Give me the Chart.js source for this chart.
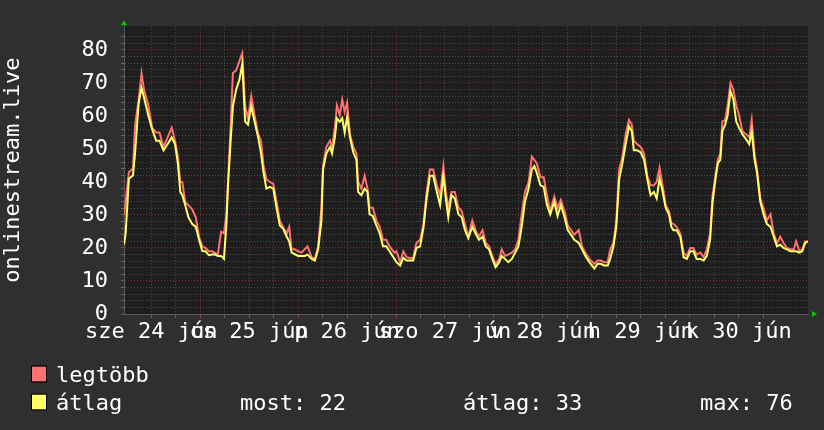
<!DOCTYPE html>
<html>
<head>
<meta charset="utf-8">
<script src="https://cdn.jsdelivr.net/npm/chart.js@4"></script>
<style>
html,body{margin:0;padding:0;background:#2f2f2f;}
canvas{display:block;}
</style>
</head>
<body>
<canvas id="c" width="824" height="430"></canvas>
<script>
// ---- data (hours since 24 Jun 00:00) ----
const hours = [5.3,5.7,6.5,7.5,8.0,8.9,9.6,10.2,11.3,12.2,13.2,14.0,15.0,16.0,17.0,17.8,18.5,19.1,19.6,20.3,21.1,22.0,22.9,23.7,24.5,25.3,26.1,26.9,27.5,28.3,29.1,29.8,30.4,30.8,31.5,32.0,32.8,33.6,34.3,35.0,35.7,36.5,37.3,38.2,38.9,39.5,40.2,41.1,41.9,42.7,43.5,44.3,45.2,45.8,46.4,47.2,48.0,48.8,49.6,50.3,51.3,52.1,52.9,53.7,54.1,54.9,55.8,56.3,57.0,57.5,58.2,58.8,59.4,60.0,60.7,61.5,62.3,62.7,63.5,64.3,65.0,65.5,66.3,67.2,68.0,68.8,69.6,70.4,71.6,72.1,73.0,73.8,74.6,75.4,76.2,77.0,77.9,78.7,79.5,80.3,81.1,82.0,82.8,83.6,84.2,84.8,85.6,86.4,87.3,88.1,88.9,89.7,90.7,91.5,92.3,93.2,94.0,94.8,95.6,96.4,97.3,97.9,98.7,99.5,100.4,101.2,102.0,102.8,103.6,104.5,105.3,105.9,106.5,107.4,108.2,109.0,109.8,110.8,111.6,112.4,113.3,114.1,114.9,115.7,116.8,117.6,118.4,119.4,120.6,121.4,122.2,123.0,123.9,124.5,125.3,126.0,126.7,127.5,128.3,129.1,129.8,130.3,131.1,132.0,132.8,133.6,134.4,135.2,135.9,136.6,137.2,138.1,138.9,139.5,140.0,140.8,141.7,142.5,143.3,144.1,144.9,145.7,146.6,147.4,148.2,149.0,149.6,150.2,150.9,151.5,152.0,152.7,153.3,154.0,154.7,155.4,156.1,156.9,157.8,158.6,159.2,159.9,160.5,161.3,162.1,162.9,163.8,164.6,165.4,166.2,167.0,167.8,168.7,169.5,170.1,170.9,171.6,172.3,173.0];
const legtobb = [30,34,43,44,57,65,72.9,68,63,56.4,55,55,50.6,53.5,56.4,52.5,47.7,40,40,34,33,31.7,29.3,23.4,20.5,20,19,19,18.6,18,24.9,24.4,30,40,58.3,73,73.8,76.7,79,63,59.3,66,60.3,54.5,52.5,45,40.9,40,39.4,34,28.3,26.4,24.4,26.4,19.6,19.6,19,18.6,19.6,20.5,17.2,16.7,20.5,32.2,44.8,50.6,52.5,50.6,56.4,63.2,60.3,65,61.2,64,54.5,50.6,48.6,40,38,41.9,38,32.2,32.2,28.3,26.4,22.5,22.5,20.5,18.6,19,15.7,19,17.2,17,17,21.5,22.5,27,37,43.8,43.8,39,36,44.8,37,32.2,37,37,32.2,31.2,27.3,23.4,28.3,25.4,23.4,25.4,21.5,20.5,17.6,15.2,16.7,19.6,17.6,18,18.6,19.6,22.5,30.2,37,40,47.7,46.7,45.7,41.4,41.4,36,31.2,35.6,32.2,34.6,31.2,26.8,25.4,24,25.4,20.5,18.6,16.7,15.2,16.2,16.2,15.7,15.7,19.6,21.5,28.3,43.8,47.7,54.5,58.8,57.4,52.5,51.5,50.6,48.6,41.9,39,39,40,44.3,40,33.1,31.2,27.5,27.3,26.4,24.4,18.6,17.6,20,20,18,18.6,17.2,19.6,24.4,36,40.9,46.7,48.6,58.3,58.8,63.2,70,68,63.2,60.3,55.4,54.5,53.5,58.8,48.6,43.8,35,32.2,28.3,30.2,24.4,21.5,23.4,21.5,20,19.6,19.6,22,19,19.6,22,22];
const atlag = [21,24.4,41,42,48.6,64,68.5,65.6,60,56,52.5,52.5,49.6,51.5,53.5,51.5,45.7,37,36,33,29.3,27.3,26.4,22.5,19.1,19,17.8,18,18.1,17.6,17.6,16.7,27,39,53.5,63,68,71,75.8,58.3,57.4,63,58.3,53.5,48.6,43,38,38.5,38,32.2,26.8,25.9,23.4,22,18.6,18.1,17.6,17.6,17.6,18,16.7,16.2,19.6,28.3,43.8,48.6,50.6,48.6,53.5,59.3,58.3,59.3,55,59.8,53.5,49,46.7,37,36,38,37,30.2,29.7,26.8,24.4,20.5,20.5,19,16.7,15.7,14.7,17,16.2,16.2,16.2,20,20.5,26,35,41.9,41.9,37,33,41.9,35,29.3,36,35,30.2,29.3,25.4,23,26.4,24.4,22.5,23.4,20.5,19.6,16.7,14.2,15.7,17.6,16.7,15.7,16.7,18.6,20.5,26.4,34,38,43.8,44.8,42.8,39,38.5,33,30.2,34,29.7,33,29.3,25.4,24,22.5,21.5,19.6,17.6,15.7,13.8,15.2,15.2,14.7,14.7,16.7,20.5,26.4,40.9,45.7,51.5,56.9,55.4,49.6,49.6,49,46.7,40.9,36,37,35,40.9,38,32.2,30.2,26.4,25.4,25.4,23.4,17.2,16.7,19,19,16.7,16.7,16.2,17.6,22.5,34,39.9,45.7,46.7,55.4,57.4,60.3,67.5,65.1,58.3,56.4,54.5,53,51.5,55.4,46.7,42.8,34,30.2,27.3,26.4,23.4,20.5,21,20,19.6,19,19,19,18.6,19,21.5,22];
const dayLabels = ['sze 24 jún','cs 25 jún','p 26 jún','szo 27 jún','v 28 jún','h 29 jún','k 30 jún'];
const yTitle = 'onlinestream.live';
const legendNames = ['legtöbb','átlag'];
const legendStats = ['most: 22','átlag: 33','max: 76'];

const FONT = 'DejaVu Sans Mono';
const RED = '#ff7070', YEL = '#ffff66';
const GRID_MINOR = '#4e4e4e', GRID_MAJOR = '#7a3030';

const pts = arr => hours.map((h,i)=>({x:h,y:arr[i]}));

const bgPlugin = {
  id:'bg',
  beforeDraw(chart){
    const {ctx, chartArea:a} = chart;
    ctx.save();
    ctx.fillStyle = '#2f2f2f';
    ctx.fillRect(0,0,chart.width,chart.height);
    ctx.fillStyle = '#1e1e1e';
    ctx.fillRect(a.left,a.top,a.right-a.left,a.bottom-a.top);
    ctx.restore();
  },
  afterDraw(chart){
    const {ctx, chartArea:a} = chart;
    ctx.save();
    // arrows
    ctx.fillStyle = '#00cc00';
    ctx.beginPath();
    ctx.moveTo(a.left-3,a.top-1);ctx.lineTo(a.left+3,a.top-1);ctx.lineTo(a.left,a.top-6);ctx.closePath();ctx.fill();
    ctx.beginPath();
    ctx.moveTo(a.right+4,a.bottom-3);ctx.lineTo(a.right+4,a.bottom+3);ctx.lineTo(a.right+9,a.bottom);ctx.closePath();ctx.fill();
    // legend
    ctx.font = '22px "'+FONT+'"';
    ctx.textBaseline = 'alphabetic';
    const rows = [381.5, 409.5];
    const cols = [RED, YEL];
    for (let i=0;i<2;i++){
      ctx.fillStyle = cols[i];
      ctx.fillRect(32, rows[i]-15, 14, 15);
      ctx.strokeStyle = '#000';
      ctx.lineWidth = 1;
      ctx.strokeRect(31.5, rows[i]-15.5, 15, 16);
      ctx.fillStyle = '#ffffff';
      ctx.fillText(legendNames[i], 56, rows[i]);
    }
    const sx = [240, 463, 700];
    legendStats.forEach((t,i)=>ctx.fillText(t, sx[i], rows[1]));
    ctx.restore();
  }
};

Chart.defaults.font.family = FONT;

new Chart(document.getElementById('c'), {
  type:'line',
  data:{
    datasets:[
      {label:legendNames[0], data:pts(legtobb), borderColor:RED, borderWidth:2, pointRadius:0, tension:0, order:2},
      {label:legendNames[1], data:pts(atlag), borderColor:YEL, borderWidth:2, pointRadius:0, tension:0, order:1}
    ]
  },
  options:{
    responsive:false,
    animation:false,
    events:[],
    layout:{padding:{left:0,right:16,top:14,bottom:0}},
    plugins:{legend:{display:false},tooltip:{enabled:false}},
    scales:{
      x:{
        type:'linear', min:5.3, max:173,
        afterFit(s){ s.height = 116; },
        ticks:{
          stepSize:6, autoSkip:false, maxRotation:0, minRotation:0,
          color:'#ffffff', font:{size:22}, padding:1,
          callback(v){ const k=(v-12)/24; return (Number.isInteger(k) && k>=0 && k<dayLabels.length) ? dayLabels[k] : ''; }
        },
        grid:{
          color(c){ const v=c.tick&&c.tick.value; if(v===undefined) return 'transparent'; if(Math.abs(v%24)<1e-6) return GRID_MAJOR; if(Math.abs(v%6)<1e-6) return GRID_MINOR; return 'transparent'; },
          tickColor(c){ const v=c.tick&&c.tick.value; if(v===undefined) return 'transparent'; if(Math.abs(v%24)<1e-6) return '#a03a3a'; if(Math.abs(v%6)<1e-6) return '#6a6a6a'; return 'transparent'; },
          tickLength:4, lineWidth:1
        },
        border:{color:'#5a5a5a', dash:[1,2]}
      },
      y:{
        min:0, max:87.2,
        afterFit(s){ s.width = 124; },
        title:{display:true, text:yTitle, color:'#ffffff', font:{size:22}, padding:{top:0,bottom:0}},
        ticks:{
          stepSize:2, autoSkip:false, color:'#ffffff', font:{size:22}, padding:13,
          callback(v){ return (Math.abs(v%10)<1e-6) ? String(v) : ''; }
        },
        grid:{
          color(c){ const v=c.tick&&c.tick.value; if(v===undefined||v===0) return 'transparent'; if(Math.abs(v%10)<1e-6) return GRID_MAJOR; if(Math.abs(v%2)<1e-6) return GRID_MINOR; return 'transparent'; },
          tickColor(c){ const v=c.tick&&c.tick.value; if(v===undefined) return 'transparent'; if(Math.abs(v%10)<1e-6) return '#a03a3a'; if(Math.abs(v%2)<1e-6) return '#6a6a6a'; return 'transparent'; },
          tickLength:3, lineWidth:1
        },
        border:{color:'#5a5a5a', dash:[1,2]}
      }
    }
  },
  plugins:[bgPlugin]
});
</script>
</body>
</html>
